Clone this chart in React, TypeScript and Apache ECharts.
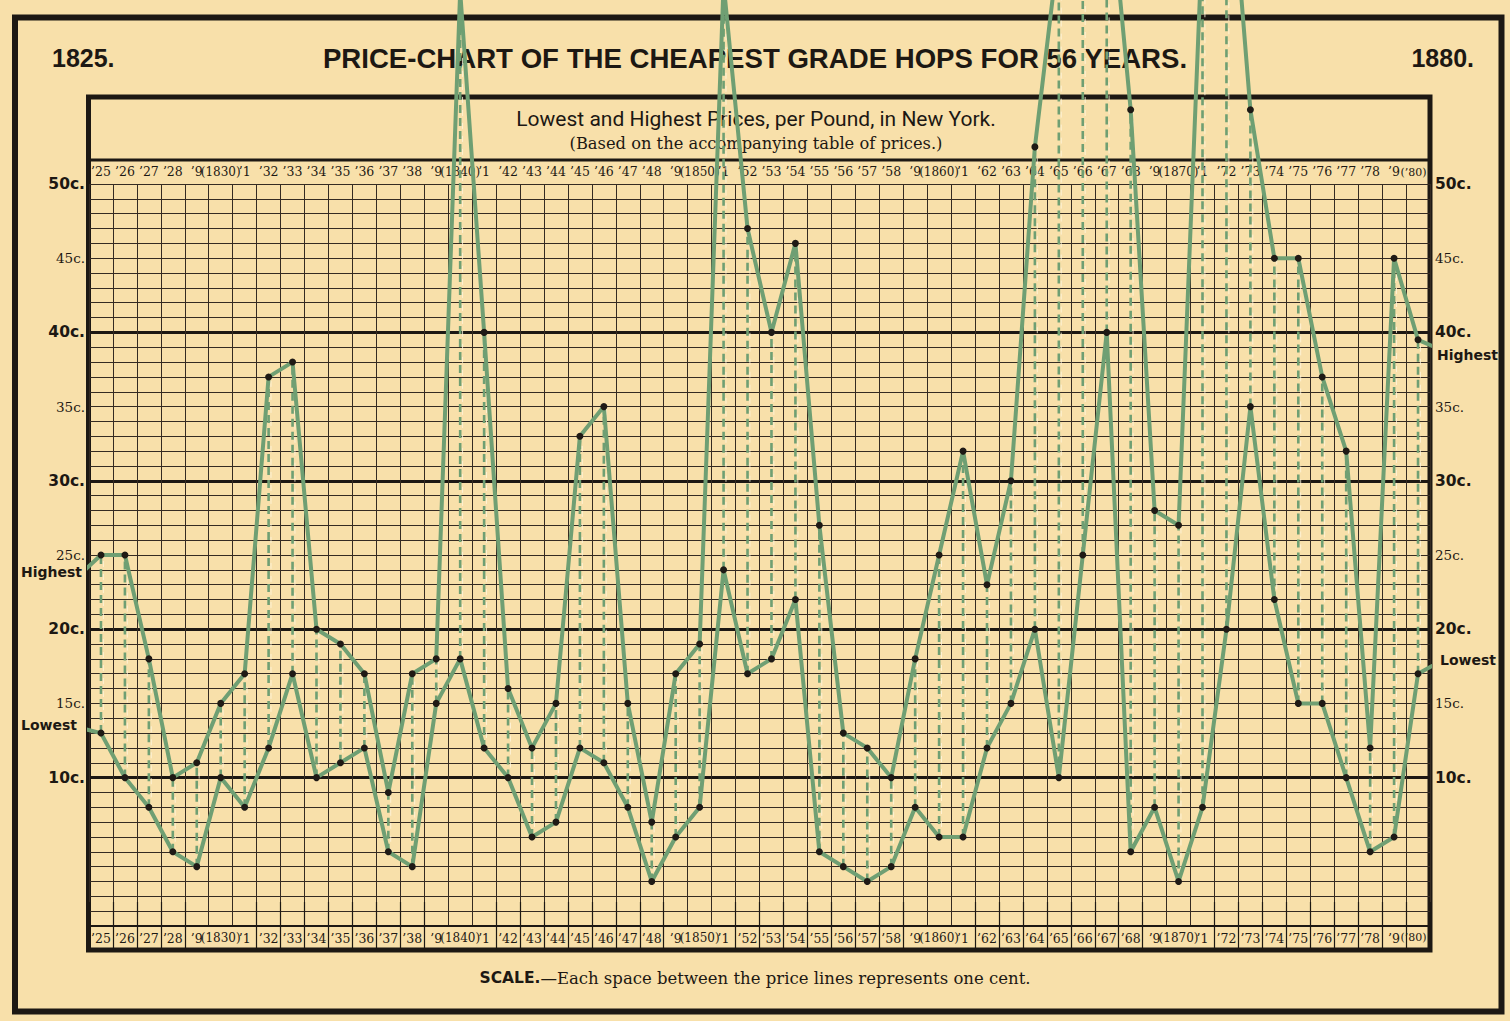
import React, { useEffect, useRef } from "react";
import * as echarts from "echarts";

// ---------- data ----------
const YEAR_LABELS = [
  "’25", "’26", "’27", "’28", "’9", "(1830)", "’1", "’32", "’33", "’34", "’35", "’36", "’37", "’38",
  "’9", "(1840)", "’1", "’42", "’43", "’44", "’45", "’46", "’47", "’48",
  "’9", "(1850)", "’1", "’52", "’53", "’54", "’55", "’56", "’57", "’58",
  "’9", "(1860)", "’1", "’62", "’63", "’64", "’65", "’66", "’67", "’68",
  "’9", "(1870)", "’1", "’72", "’73", "’74", "’75", "’76", "’77", "’78",
  "’9", "(’80)",
];

// highest price per pound (cents), 1825 .. 1880
const HIGHEST = [
  25, 25, 18, 10, 11, 15, 17, 37, 38, 20, 19, 17, 9, 17,
  18, 63, 40, 16, 12, 15, 33, 35, 15, 7,
  17, 19, 63.5, 47, 40, 46, 27, 13, 12, 10,
  18, 25, 32, 23, 30, 52.5, 66, 70, 72, 55,
  28, 27, 67, 75, 55, 45, 45, 37, 32, 12,
  45, 39.5,
];

// lowest price per pound (cents), 1825 .. 1880
const LOWEST = [
  13, 10, 8, 5, 4, 10, 8, 12, 17, 10, 11, 12, 5, 4,
  15, 18, 12, 10, 6, 7, 12, 11, 8, 3,
  6, 8, 24, 17, 18, 22, 5, 4, 3, 4,
  8, 6, 6, 12, 15, 20, 10, 25, 40, 5,
  8, 3, 8, 20, 35, 22, 15, 15, 10, 5,
  6, 17,
];

// lead-in / lead-out strokes toward the "Highest" / "Lowest" labels
const HIGH_EXT = [[-0.3, 23.8], [56.35, 38.9]];
const LOW_EXT = [[-0.5, 13.4], [56.4, 17.8]];

const Y_TICKS = [10, 15, 20, 25, 30, 35, 40, 45, 50];
const HIDDEN_TICKS = [5, 6, 15, 16, 25, 26, 35, 36, 45, 46];

// ---------- style ----------
const PAPER = "#F8E0AA";
const INK = "#1d1813";
const GRIDC = "#352b22";
const GREEN = "#6F9F73";

const yLabelFormatter = (v: number) => {
  if (!Y_TICKS.includes(v)) return "";
  return v % 10 === 0 ? `{b|${v}c.}` : `{s|${v}c.}`;
};
const yRich = {
  b: { fontFamily: "DejaVu Sans", fontWeight: "bold", fontSize: 15.5, color: INK },
  s: { fontFamily: "DejaVu Serif", fontSize: 13.5, color: INK },
};

const catAxis = (position: "top" | "bottom") => ({
  gridIndex: 1,
  type: "category",
  position,
  data: YEAR_LABELS,
  boundaryGap: true,
  axisLine: { show: true, lineStyle: { color: INK, width: 2 } },
  axisTick: {
    show: true,
    length: 24,
    inside: false,
    interval: (i: number) => !HIDDEN_TICKS.includes(i),
    lineStyle: { color: INK, width: 1.2 },
  },
  axisLabel: {
    show: true,
    interval: 0,
    margin: 6,
    formatter: (v: string, i: number) =>
      i === YEAR_LABELS.length - 1 ? `{q|${v}}` : v.startsWith("(") ? `{p|${v}}` : `{y|${v}}`,
    rich: {
      y: { fontFamily: "DejaVu Serif", fontSize: 12.5, color: INK },
      p: { fontFamily: "DejaVu Serif", fontSize: 12, color: INK },
      q: { fontFamily: "DejaVu Serif", fontSize: 11, color: INK, padding: [0, 9, 0, 0] },
    },
  },
  splitLine: { show: false },
});

function buildOption() {
  const highData = [
    { value: HIGH_EXT[0], symbol: "none" },
    ...HIGHEST.map((v, i) => [i + 0.5, v]),
    { value: HIGH_EXT[1], symbol: "none" },
  ];
  const lowData = [
    { value: LOW_EXT[0], symbol: "none" },
    ...LOWEST.map((v, i) => [i + 0.5, v]),
    { value: LOW_EXT[1], symbol: "none" },
  ];
  const rangeData = LOWEST.map((lo, i) => [i + 0.5, lo, HIGHEST[i]]);

  const gridBox = { left: 89, right: 80, top: 184, bottom: 95 };

  return {
    animation: false,
    backgroundColor: PAPER,
    grid: [
      { ...gridBox, show: false },
      { ...gridBox, show: false },
    ],
    xAxis: [
      {
        gridIndex: 0,
        type: "value",
        min: 0,
        max: 56,
        interval: 1,
        position: "bottom",
        axisLine: { show: false },
        axisTick: { show: false },
        axisLabel: { show: false },
        splitLine: { show: true, lineStyle: { color: GRIDC, width: 1 } },
      },
      catAxis("top"),
      catAxis("bottom"),
    ],
    yAxis: [
      {
        gridIndex: 0,
        type: "value",
        position: "left",
        min: 0,
        max: 50,
        interval: 1,
        axisLine: { show: false },
        axisTick: { show: false },
        axisLabel: { show: true, margin: 4, formatter: yLabelFormatter, rich: yRich },
        splitLine: { show: true, lineStyle: { color: GRIDC, width: 1 } },
      },
      {
        gridIndex: 0,
        type: "value",
        position: "right",
        min: 0,
        max: 50,
        interval: 1,
        axisLine: { show: false },
        axisTick: { show: false },
        axisLabel: { show: true, margin: 5, formatter: yLabelFormatter, rich: yRich },
        splitLine: { show: false },
      },
      {
        gridIndex: 1,
        type: "value",
        position: "left",
        min: 0,
        max: 50,
        interval: 10,
        axisLine: { show: false },
        axisTick: { show: false },
        axisLabel: { show: false },
        splitLine: {
          show: true,
          showMinLine: false,
          showMaxLine: false,
          lineStyle: { color: INK, width: 3 },
        },
      },
    ],
    graphic: [
      { type: "rect", z: 0, shape: { x: 15, y: 17.5, width: 1486.5, height: 994 }, style: { fill: "none", stroke: INK, lineWidth: 6 } },
      { type: "rect", z: 0, shape: { x: 88.5, y: 97, width: 1341.5, height: 853 }, style: { fill: "none", stroke: INK, lineWidth: 5 } },
      { type: "line", z: 0, shape: { x1: 88.5, y1: 160, x2: 1430, y2: 160 }, style: { stroke: INK, lineWidth: 3 } },
      { type: "text", z: 0, x: 52, y: 58, style: { text: "1825.", font: 'bold 25px "Liberation Sans"', fill: INK, align: "left", verticalAlign: "middle" } },
      { type: "text", z: 0, x: 1474, y: 58, style: { text: "1880.", font: 'bold 25px "Liberation Sans"', fill: INK, align: "right", verticalAlign: "middle" } },
      { type: "text", z: 0, x: 755, y: 58, style: { text: "PRICE-CHART OF THE CHEAPEST GRADE HOPS FOR 56 YEARS.", font: 'bold 27.6px "Liberation Sans"', fill: INK, align: "center", verticalAlign: "middle" } },
      { type: "text", z: 0, x: 756, y: 119, style: { text: "Lowest and Highest Prices, per Pound, in New York.", font: '21px "Roboto", sans-serif', fill: INK, align: "center", verticalAlign: "middle" } },
      { type: "text", z: 0, x: 756, y: 143, style: { text: "(Based on the accompanying table of prices.)", font: '16.3px "DejaVu Serif"', fill: INK, align: "center", verticalAlign: "middle" } },
      {
        type: "text", z: 0, x: 755, y: 978,
        style: {
          text: "{b|SCALE.}{n|—Each space between the price lines represents one cent.}",
          align: "center", verticalAlign: "middle", fill: INK,
          rich: {
            b: { fontFamily: "DejaVu Sans", fontWeight: "bold", fontSize: 15.5, fill: INK },
            n: { fontFamily: "DejaVu Serif", fontSize: 16.5, fill: INK },
          },
        },
      },
      { type: "text", z: 0, x: 82, y: 572, style: { text: "Highest", font: 'bold 14px "DejaVu Sans"', fill: INK, align: "right", verticalAlign: "middle" } },
      { type: "text", z: 0, x: 77, y: 725, style: { text: "Lowest", font: 'bold 14px "DejaVu Sans"', fill: INK, align: "right", verticalAlign: "middle" } },
      { type: "text", z: 0, x: 1437, y: 355, style: { text: "Highest", font: 'bold 14px "DejaVu Sans"', fill: INK, align: "left", verticalAlign: "middle" } },
      { type: "text", z: 0, x: 1440, y: 660, style: { text: "Lowest", font: 'bold 14px "DejaVu Sans"', fill: INK, align: "left", verticalAlign: "middle" } },
    ],
    series: [
      {
        type: "custom",
        name: "range",
        xAxisIndex: 0,
        yAxisIndex: 0,
        clip: false,
        z: 2,
        encode: { x: 0, y: [1, 2] },
        data: rangeData,
        renderItem: (_params: any, api: any) => {
          const x = api.value(0);
          const p1 = api.coord([x, api.value(1)]);
          const p2 = api.coord([x, api.value(2)]);
          return {
            type: "group",
            children: [
              {
                type: "line",
                shape: { x1: p1[0], y1: p1[1], x2: p2[0], y2: p2[1] },
                style: { stroke: GREEN, lineWidth: 2.6, lineDash: [8, 5] },
              },
              {
                type: "line",
                shape: { x1: p1[0] + 2.4, y1: p1[1], x2: p2[0] + 2.4, y2: p2[1] },
                style: { stroke: "#FFF6DE", lineWidth: 1, lineDash: [6, 7], lineDashOffset: 3, opacity: 0.8 },
              },
            ],
          };
        },
      },
      {
        type: "line",
        name: "Highest",
        xAxisIndex: 0,
        yAxisIndex: 0,
        clip: false,
        z: 3,
        data: highData,
        symbol: "circle",
        symbolSize: 7,
        showSymbol: true,
        showAllSymbol: true,
        itemStyle: { color: "#1f1a15" },
        lineStyle: { color: GREEN, width: 4, join: "round" },
      },
      {
        type: "line",
        name: "Lowest",
        xAxisIndex: 0,
        yAxisIndex: 0,
        clip: false,
        z: 3,
        data: lowData,
        symbol: "circle",
        symbolSize: 7,
        showSymbol: true,
        showAllSymbol: true,
        itemStyle: { color: "#1f1a15" },
        lineStyle: { color: GREEN, width: 4, join: "round" },
      },
    ],
  };
}

export default function App() {
  const ref = useRef<HTMLDivElement>(null);
  useEffect(() => {
    const chart = echarts.init(ref.current!, null, { renderer: "svg" });
    chart.setOption(buildOption() as any);
    return () => chart.dispose();
  }, []);
  return (
    <div
      ref={ref}
      style={{ position: "fixed", left: 0, top: 0, width: 1510, height: 1021, background: PAPER }}
    />
  );
}
